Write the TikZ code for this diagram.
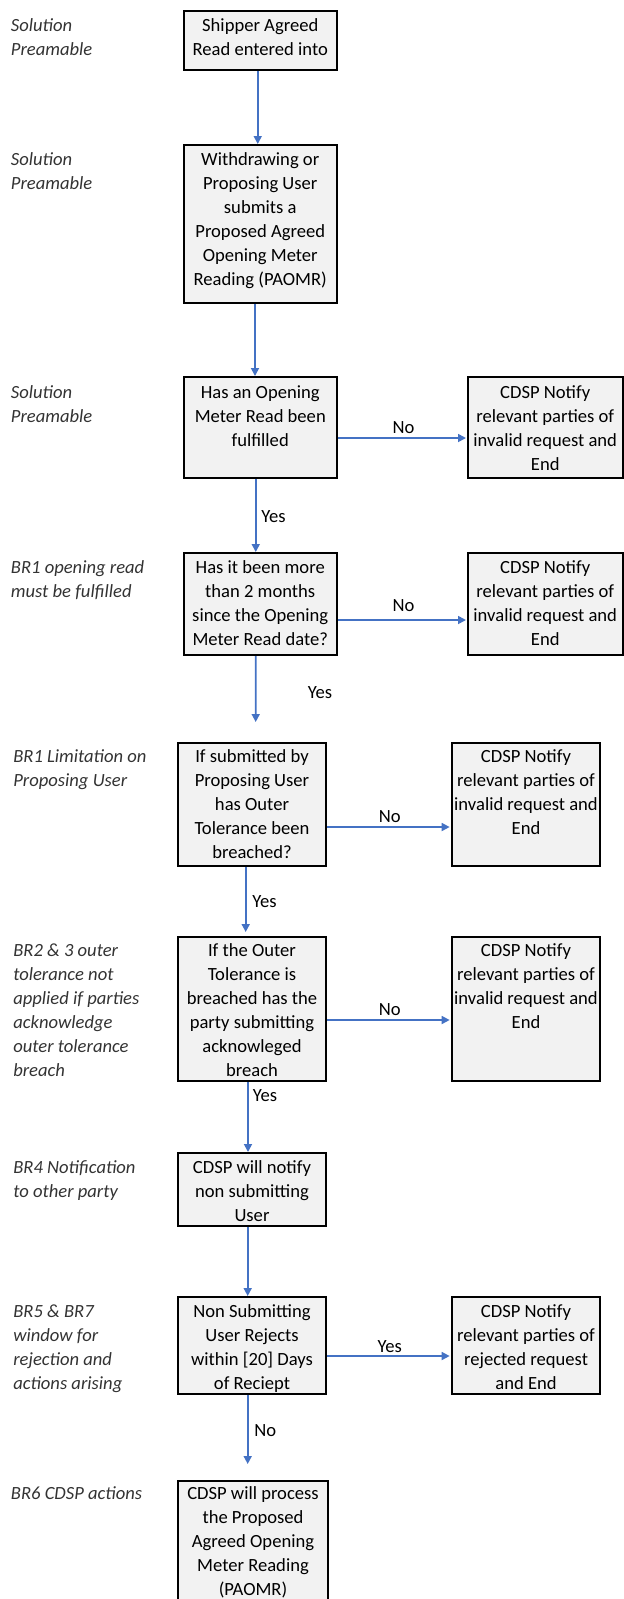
\documentclass[tikz,border=0pt]{standalone}
\usepackage{fontspec}
\setmainfont{Carlito}
\usetikzlibrary{arrows.meta}
\definecolor{arrblue}{HTML}{4472C4}
\definecolor{boxfill}{HTML}{F2F2F2}
\newcommand\fstrut{\rule{0pt}{18pt}}
\begin{document}
\begin{tikzpicture}[x=1pt,y=-1pt,
  box/.style={draw=black, line width=2pt, fill=boxfill, rectangle, inner sep=0pt},
  txt/.style={align=center, inner sep=0pt, font=\fontsize{18.6pt}{24pt}\selectfont, anchor=north},
  lbl/.style={align=left, inner sep=0pt, font=\fontsize{18.6pt}{24pt}\selectfont\itshape, anchor=north west, text=black!80},
  yn/.style={inner sep=0pt, font=\fontsize{18.6pt}{24pt}\selectfont},
  arr/.style={draw=arrblue, line width=1.7pt, -{Triangle[length=8pt,width=8pt]}}
]
\useasboundingbox (0,0) rectangle (624,1599);

% boxes
\node[box, minimum width=153.5pt, minimum height=59pt]  (b1) at (260.25,40.5) {};
\node[box, minimum width=153.5pt, minimum height=158pt] (b2) at (260.25,224) {};
\node[box, minimum width=153.5pt, minimum height=101pt] (b3) at (260.25,427.5) {};
\node[box, minimum width=154.5pt, minimum height=101pt] (r3) at (545.25,427.5) {};
\node[box, minimum width=153.5pt, minimum height=102pt] (b4) at (260.25,604) {};
\node[box, minimum width=154.5pt, minimum height=102pt] (r4) at (545.25,604) {};
\node[box, minimum width=148pt, minimum height=123pt] (b5) at (252,804.5) {};
\node[box, minimum width=148.7pt, minimum height=123pt] (r5) at (526,804.5) {};
\node[box, minimum width=148pt, minimum height=144pt] (b6) at (252,1009) {};
\node[box, minimum width=148.7pt, minimum height=144pt] (r6) at (526,1009) {};
\node[box, minimum width=148pt, minimum height=73pt]  (b7) at (252,1189.5) {};
\node[box, minimum width=148pt, minimum height=97pt]  (b8) at (252,1345.5) {};
\node[box, minimum width=148.7pt, minimum height=97pt]  (r8) at (526,1345.5) {};
\node[box, minimum width=150pt, minimum height=134pt] (b9) at (253,1548) {};

% box texts
\node[txt] (b1t) at (260.25,13) {\fstrut Shipper Agreed\\Read entered into};
\node[txt] (b2t) at (260.25,147) {\fstrut Withdrawing or\\Proposing User\\submits a\\Proposed Agreed\\Opening Meter\\Reading (PAOMR)};
\node[txt] (b3t) at (260.25,380) {\fstrut Has an Opening\\Meter Read been\\fulfilled};
\node[txt] (r3t) at (545.25,380) {\fstrut CDSP Notify\\relevant parties of\\invalid request and\\End};
\node[txt] (b4t) at (260.25,555) {\fstrut Has it been more\\than 2 months\\since the Opening\\Meter Read date?};
\node[txt] (r4t) at (545.25,555) {\fstrut CDSP Notify\\relevant parties of\\invalid request and\\End};
\node[txt] (b5t) at (252,744) {\fstrut If submitted by\\Proposing User\\has Outer\\Tolerance been\\breached?};
\node[txt] (r5t) at (526,744) {\fstrut CDSP Notify\\relevant parties of\\invalid request and\\End};
\node[txt] (b6t) at (252,938) {\fstrut If the Outer\\Tolerance is\\breached has the\\party submitting\\acknowleged\\breach};
\node[txt] (r6t) at (526,938) {\fstrut CDSP Notify\\relevant parties of\\invalid request and\\End};
\node[txt] (b7t) at (252,1155) {\fstrut CDSP will notify\\non submitting\\User};
\node[txt] (b8t) at (252,1299) {\fstrut Non Submitting\\User Rejects\\within [20] Days\\of Reciept};
\node[txt] (r8t) at (526,1299) {\fstrut CDSP Notify\\relevant parties of\\rejected request\\and End};
\node[txt] (b9t) at (253,1481) {\fstrut CDSP will process\\the Proposed\\Agreed Opening\\Meter Reading\\(PAOMR)};

% left labels
\node[lbl] (l1) at (10.7,13) {\fstrut Solution\\Preamable};
\node[lbl] (l2) at (10.7,147) {\fstrut Solution\\Preamable};
\node[lbl] (l3) at (10.7,380) {\fstrut Solution\\Preamable};
\node[lbl] (l4) at (10.7,555) {\fstrut BR1 opening read\\must be fulfilled};
\node[lbl] (l5) at (13.1,744) {\fstrut BR1 Limitation on\\Proposing User};
\node[lbl] (l6) at (13.1,938) {\fstrut BR2 \& 3 outer\\tolerance not\\applied if parties\\acknowledge\\outer tolerance\\breach};
\node[lbl] (l7) at (13.1,1155) {\fstrut BR4 Notification\\to other party};
\node[lbl] (l8) at (13.1,1299) {\fstrut BR5 \& BR7\\window for\\rejection and\\actions arising};
\node[lbl] (l9) at (10.7,1481) {\fstrut BR6 CDSP actions};

% vertical connectors
\draw[arr] ([xshift=-2.5pt]b1.south) -- ([xshift=-2.5pt]b2.north);
\draw[arr] ([xshift=-5.25pt]b2.south) -- ([xshift=-5.25pt]b3.north);
\draw[arr] ([xshift=-4.5pt]b3.south) -- ([xshift=-4.5pt]b4.north);
\draw[arr, shorten >=20pt] ([xshift=-4.5pt]b4.south) -- ([xshift=3.7pt]b5.north);
\draw[arr, shorten >=4pt] ([xshift=-6.3pt]b5.south) -- ([xshift=-6.3pt]b6.north);
\draw[arr] ([xshift=-4pt]b6.south) -- ([xshift=-4pt]b7.north);
\draw[arr] ([xshift=-4.3pt]b7.south) -- ([xshift=-4.3pt]b8.north);
\draw[arr, shorten >=16pt] ([xshift=-4.3pt]b8.south) -- ([xshift=-5.3pt]b9.north);

% horizontal connectors
\draw[arr, shorten >=1pt] ([yshift=-10.5pt]b3.east) -- ([yshift=-10.5pt]r3.west);
\draw[arr, shorten >=1pt] ([yshift=-16pt]b4.east) -- ([yshift=-16pt]r4.west);
\draw[arr, shorten >=1pt] ([yshift=-22.5pt]b5.east) -- ([yshift=-22.5pt]r5.west);
\draw[arr, shorten >=1pt] ([yshift=-11pt]b6.east) -- ([yshift=-11pt]r6.west);
\draw[arr, shorten >=1pt] ([yshift=-10.5pt]b8.east) -- ([yshift=-10.5pt]r8.west);

% connector labels
\node[yn] (no3) at (403.6,428) {No};
\node[yn] (no4) at (403.6,606) {No};
\node[yn] (yes3) at (273.6,517) {Yes};
\node[yn] (yes4) at (320,693) {Yes};
\node[yn] (no5) at (389.7,817) {No};
\node[yn] (yes5) at (264.4,902) {Yes};
\node[yn] (no6) at (389.7,1010) {No};
\node[yn] (yes6) at (265,1096) {Yes};
\node[yn] (yes8) at (389.7,1347) {Yes};
\node[yn] (no8) at (265.2,1431) {No};
\end{tikzpicture}
\end{document}
